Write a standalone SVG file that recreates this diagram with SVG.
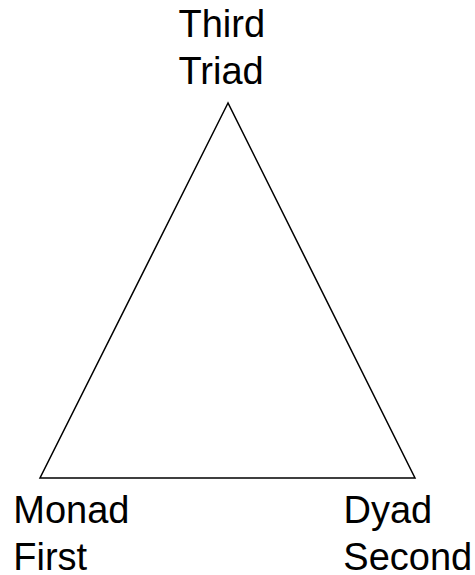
<svg xmlns="http://www.w3.org/2000/svg" width="475" height="575" viewBox="0 0 475 575">
<style>
.lbl{font-family:"Liberation Sans",Arial,sans-serif;font-size:38px;fill:#000}
.edge{fill:none;stroke:#000;stroke-width:1.5}
</style>
<rect width="475" height="575" fill="#fff"/>
<g id="connectors">
<path class="edge" d="M228,103 L40,478 L415,478 Z"/>
</g>
<g id="triad"><text class="lbl" x="178.5" y="36.5">Third</text><text class="lbl" x="178.5" y="83.5">Triad</text></g>
<g id="monad"><text class="lbl" x="13.3" y="523">Monad</text><text class="lbl" x="13.3" y="569.5">First</text></g>
<g id="dyad"><text class="lbl" x="343.5" y="523">Dyad</text><text class="lbl" x="343.3" y="569.5">Second</text></g>
</svg>
